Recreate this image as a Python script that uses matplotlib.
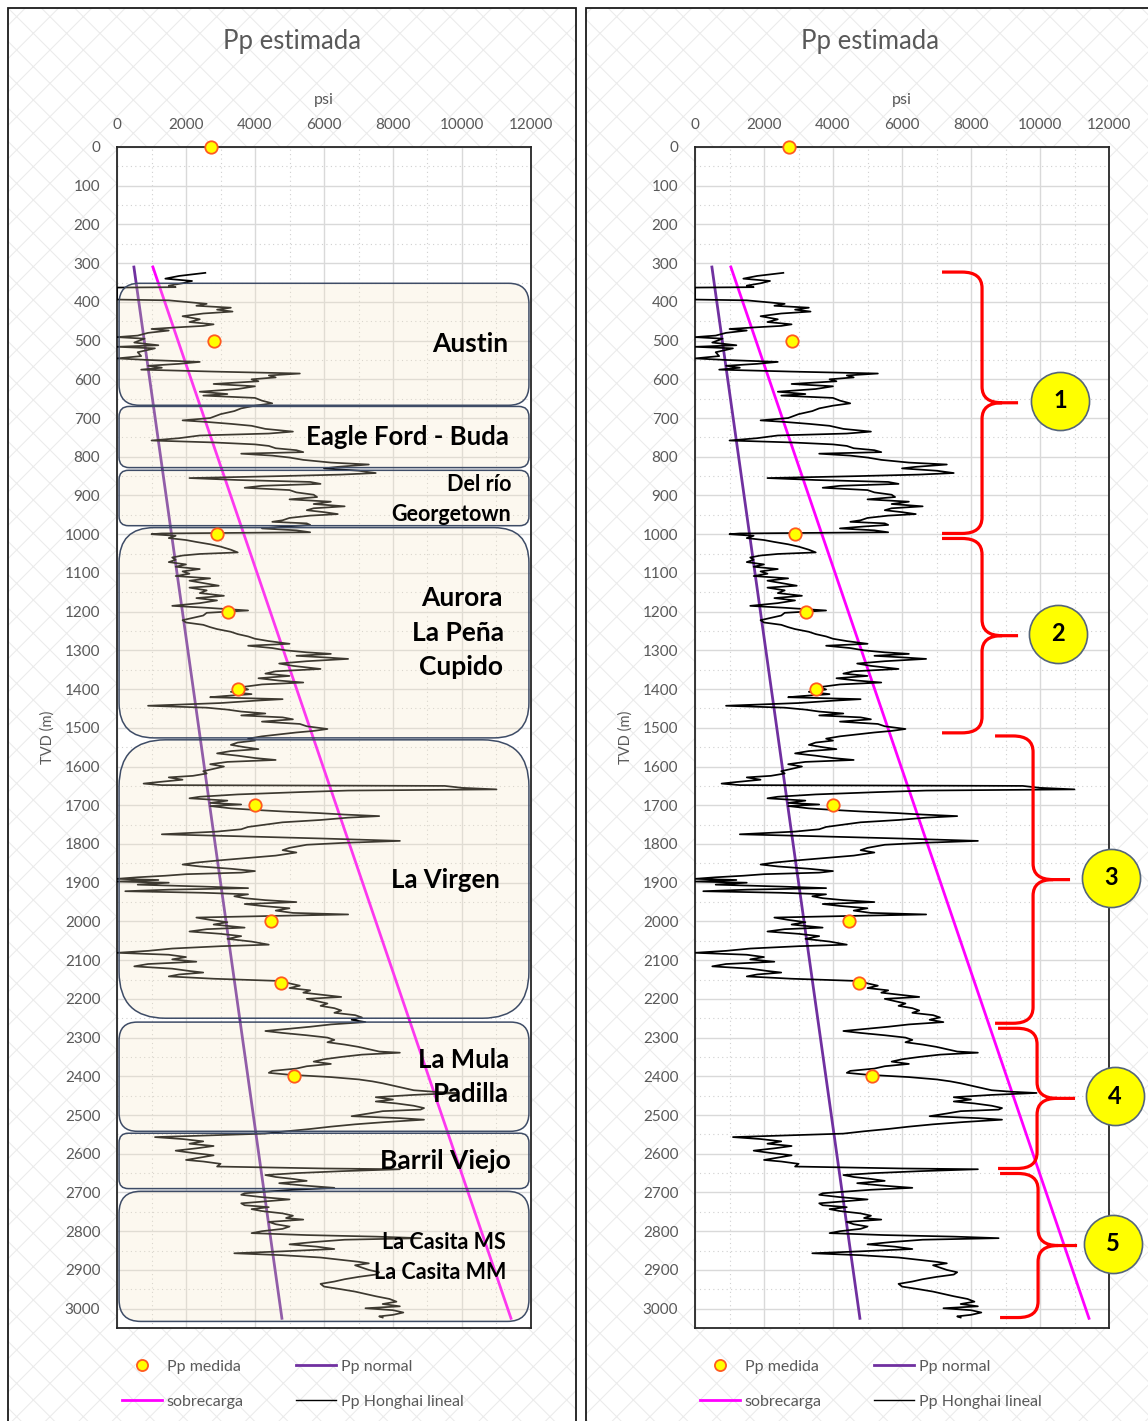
import matplotlib
matplotlib.use("Agg")
import matplotlib.pyplot as plt
from matplotlib.patches import FancyBboxPatch, Rectangle, PathPatch
from matplotlib.path import Path
from matplotlib.lines import Line2D

plt.rcParams['font.family'] = ['Lato', 'DejaVu Sans']
plt.rcParams['hatch.linewidth'] = 0.8

# ---------------- data ----------------
medida_depth = [0, 500, 1000, 1200, 1400, 1700, 2000, 2160, 2400]
medida_psi = [2725, 2810, 2900, 3220, 3510, 4000, 4460, 4750, 5130]

normal_depth = [310, 3025]
normal_psi = [490, 4780]

sobrecarga_depth = [310, 3025]
sobrecarga_psi = [1040, 11420]

honghai_depth = [
    325, 333, 340, 346, 352, 358, 362, 363, 394, 396,
    405, 410, 415, 420, 425, 430, 437, 445, 452, 458,
    462, 466, 470, 474, 480, 487, 491, 495, 505, 512,
    516, 520, 530, 540, 546, 550, 555, 560, 565, 570,
    575, 580, 585, 590, 595, 600, 605, 612, 618, 625,
    632, 638, 642, 648, 655, 662, 668, 675, 682, 690,
    700, 706, 710, 715, 720, 728, 735, 740, 745, 752,
    758, 763, 768, 772, 778, 783, 788, 792, 797, 802,
    808, 815, 820, 826, 830, 836, 842, 846, 850, 855,
    860, 865, 870, 875, 880, 886, 892, 898, 904, 910,
    916, 922, 928, 933, 938, 943, 948, 952, 958, 964,
    968, 972, 976, 980, 985, 990, 995, 998, 1000, 1004,
    1010, 1015, 1020, 1026, 1032, 1040, 1047, 1051, 1055, 1060,
    1066, 1072, 1078, 1084, 1090, 1096, 1102, 1108, 1114, 1120,
    1126, 1133, 1138, 1145, 1152, 1159, 1165, 1171, 1178, 1185,
    1190, 1197, 1203, 1210, 1216, 1222, 1228, 1234, 1240, 1245,
    1252, 1258, 1264, 1270, 1276, 1283, 1288, 1294, 1300, 1305,
    1309, 1314, 1318, 1322, 1328, 1334, 1340, 1348, 1354, 1360,
    1366, 1372, 1378, 1383, 1388, 1395, 1401, 1407, 1413, 1418,
    1421, 1426, 1430, 1436, 1443, 1448, 1453, 1458, 1463, 1468,
    1473, 1478, 1484, 1490, 1496, 1503, 1508, 1512, 1516, 1522,
    1528, 1533, 1538, 1544, 1550, 1555, 1560, 1566, 1572, 1578,
    1583, 1588, 1594, 1600, 1606, 1612, 1618, 1624, 1628, 1634,
    1640, 1644, 1648, 1650, 1655, 1659, 1662, 1666, 1672, 1678,
    1682, 1688, 1694, 1698, 1702, 1708, 1712, 1716, 1720, 1724,
    1728, 1732, 1738, 1744, 1750, 1756, 1762, 1768, 1775, 1780,
    1786, 1792, 1797, 1802, 1810, 1816, 1822, 1830, 1836, 1842,
    1848, 1853, 1858, 1864, 1870, 1874, 1878, 1882, 1886, 1890,
    1893, 1897, 1900, 1905, 1910, 1914, 1918, 1922, 1926, 1930,
    1935, 1940, 1945, 1950, 1955, 1960, 1966, 1972, 1978, 1982,
    1986, 1990, 1996, 2002, 2008, 2016, 2020, 2026, 2032, 2038,
    2045, 2052, 2060, 2064, 2070, 2076, 2081, 2086, 2092, 2098,
    2104, 2110, 2116, 2122, 2128, 2132, 2137, 2142, 2148, 2154,
    2160, 2166, 2172, 2178, 2184, 2190, 2195, 2200, 2206, 2212,
    2218, 2224, 2230, 2236, 2242, 2248, 2254, 2260, 2266, 2272,
    2278, 2283, 2288, 2294, 2300, 2306, 2312, 2318, 2324, 2330,
    2336, 2339, 2344, 2350, 2356, 2362, 2368, 2374, 2380, 2386,
    2391, 2396, 2402, 2408, 2413, 2418, 2424, 2430, 2436, 2440,
    2443, 2448, 2454, 2460, 2465, 2470, 2476, 2482, 2486, 2490,
    2496, 2503, 2508, 2512, 2518, 2524, 2530, 2536, 2542, 2548,
    2553, 2557, 2562, 2568, 2574, 2580, 2586, 2592, 2598, 2604,
    2610, 2616, 2620, 2626, 2633, 2638, 2640, 2645, 2650, 2655,
    2660, 2665, 2670, 2676, 2682, 2688, 2693, 2698, 2702, 2706,
    2712, 2718, 2723, 2728, 2733, 2738, 2743, 2748, 2754, 2760,
    2766, 2770, 2776, 2782, 2788, 2794, 2800, 2805, 2810, 2814,
    2818, 2822, 2828, 2834, 2840, 2846, 2852, 2857, 2862, 2868,
    2874, 2879, 2883, 2888, 2894, 2900, 2906, 2912, 2918, 2924,
    2930, 2936, 2943, 2950, 2956, 2962, 2968, 2975, 2982, 2988,
    2994, 2999, 3004, 3010, 3016, 3020, 3023,
]
honghai_psi = [
    2560, 1800, 1400, 2175, 1900, 1500, 1700, 0, 0, 1500,
    2600, 2300, 3300, 2900, 3350, 2500, 1900, 2400, 2100, 2800,
    2500, 1700, 1000, 1500, 900, 600, 0, 800, 500, 1200,
    0, 1100, 600, 700, 0, 900, 2400, 1800, 900, 1300,
    700, 2800, 5300, 4400, 4600, 3900, 4100, 2800, 4000, 3500,
    2400, 3200, 2500, 4000, 4200, 4500, 4000, 3600, 3400, 3000,
    2700, 1900, 2600, 3300, 3900, 4300, 5100, 4400, 2400, 1800,
    1000, 2800, 4000, 4400, 4600, 5200, 5400, 3600, 4500, 5000,
    5400, 6200, 7300, 6400, 6000, 7000, 7500, 6500, 4700, 2100,
    3500, 5600, 5900, 4200, 3700, 5000, 5200, 5700, 5800, 5000,
    6200, 5700, 6600, 5700, 5500, 6000, 6400, 5600, 5000, 4800,
    4500, 5500, 5600, 4900, 4200, 5200, 5600, 1300, 1000, 1700,
    1500, 2000, 2300, 2700, 3000, 3300, 3500, 2400, 1900, 1600,
    1700, 1500, 2000, 1700, 2400, 1900, 2100, 1700, 2700, 2100,
    2500, 2950, 2100, 2600, 2400, 3100, 2300, 2900, 2400, 1600,
    2600, 3800, 2600, 2500, 2200, 1900, 2000, 2500, 2700, 2900,
    3300, 3500, 3800, 4000, 4400, 5000, 3800, 4500, 4900, 5500,
    6200, 5200, 6000, 6700, 5500, 4700, 5100, 5900, 4600, 4300,
    5000, 4100, 4700, 5400, 4200, 3600, 3800, 3300, 3900, 3100,
    2700, 4800, 4000, 3000, 900, 2600, 3200, 3600, 4300, 3600,
    4800, 5100, 4200, 5300, 5500, 6100, 5700, 5200, 4800, 4200,
    3800, 4000, 3500, 3300, 3700, 4100, 3300, 2900, 3500, 4000,
    4600, 3200, 2700, 3100, 2800, 2500, 2600, 2200, 1500, 1900,
    1200, 770, 1300, 9500, 10000, 11000, 6700, 5300, 3500, 2400,
    2100, 3200, 2700, 3600, 2700, 3300, 4000, 4800, 5800, 6600,
    7600, 6700, 5900, 4800, 4300, 3800, 3600, 2900, 1300, 3500,
    6000, 8200, 6600, 5500, 5000, 4800, 5200, 4600, 3800, 3000,
    2300, 1900, 2400, 3300, 4000, 3600, 2000, 1400, 600, 0,
    1200, 0, 1500, 600, 2500, 3800, 1500, 240, 2500, 3800,
    3400, 3700, 4300, 5200, 3700, 4200, 5000, 4600, 5100, 6700,
    4400, 2300, 2700, 3200, 2800, 3700, 2600, 2100, 3000, 3600,
    3200, 3900, 4400, 3000, 1600, 900, 0, 1500, 2000, 1600,
    2300, 900, 500, 1600, 2100, 2500, 1800, 1500, 2800, 4800,
    5000, 5300, 5000, 5600, 5400, 6000, 6500, 5500, 5800, 6100,
    5900, 6300, 6500, 6300, 6900, 7100, 6800, 7200, 6200, 5600,
    4900, 4300, 4800, 5500, 6100, 6300, 6100, 6600, 7000, 7300,
    7600, 8200, 7100, 6500, 6000, 5700, 6200, 5500, 5200, 4500,
    4400, 5000, 6200, 7000, 7400, 7700, 8000, 8300, 8600, 9200,
    9900, 8600, 7500, 8000, 7500, 8100, 8600, 8900, 8800, 7700,
    7300, 6800, 8200, 8900, 7800, 6900, 6200, 5600, 4900, 4300,
    2500, 1100, 1900, 2500, 2100, 2800, 2300, 1700, 2200, 2800,
    2400, 2000, 2500, 3000, 2900, 6000, 8200, 6500, 5200, 4300,
    4600, 5100, 5500, 4700, 5400, 6300, 5100, 4300, 3700, 3600,
    4200, 5000, 4300, 3600, 3700, 4400, 3900, 4200, 4800, 5100,
    4900, 5400, 4400, 4600, 5000, 4800, 4200, 3900, 5500, 7500,
    8800, 6600, 5700, 5000, 5800, 6300, 4800, 3400, 4800, 5900,
    6500, 7000, 7300, 6900, 7100, 7300, 7600, 7500, 7000, 6600,
    6300, 5900, 6000, 6500, 6900, 7200, 7500, 7900, 8100, 7700,
    8200, 7200, 8000, 8300, 8000, 7600, 7700,
]

# formations (left panel)
form_top = [352, 670, 835, 983, 1531, 2260, 2547, 2697]
form_base = [667, 828, 978, 1526, 2250, 2542, 2690, 3033]
form_labels = ["Austin", "Eagle Ford - Buda", "Del río", "Georgetown",
               "Aurora", "La Peña", "Cupido", "La Virgen", "La Mula",
               "Padilla", "Barril Viejo", "La Casita MS", "La Casita MM"]
form_label_depth = [509, 750, 871, 949, 1166, 1254, 1342, 1893, 2359,
                    2446, 2620, 2829, 2907]
form_label_right = [11335, 11364, 11422, 11422, 11190, 11219, 11190, 11103,
                    11364, 11364, 11422, 11277, 11277]
form_label_size = [19, 18.5, 15.5, 15.5, 19, 19, 19, 18.5, 18.5, 18.5, 19,
                   15.5, 15.5]

# zones (right panel)
zone_top = [323, 1011, 1521, 2276, 2651]
zone_base = [998, 1513, 2263, 2638, 3023]
zone_labels = ["1", "2", "3", "4", "5"]

# ---------------- layout ----------------
W, H = 1148, 1421
fig = plt.figure(figsize=(W / 100, H / 100), dpi=100)


def fx(px):
    return px / W


def fy(py):
    return 1 - py / H


GRAY = '#595959'
C_NORMAL = '#7030A0'
C_SOBRE = '#FF00FF'

# panel backgrounds with light lattice pattern and black frame
for x0, x1 in [(8, 576), (586, 1160)]:
    bg = Rectangle((fx(x0), fy(1440)), fx(x1) - fx(x0), fy(8) - fy(1440),
                   transform=fig.transFigure, facecolor='white',
                   edgecolor='#ececec', hatch='x', lw=0, zorder=-3)
    fig.patches.append(bg)
    fr = Rectangle((fx(x0), fy(1440)), fx(x1) - fx(x0), fy(8) - fy(1440),
                   transform=fig.transFigure, facecolor='none',
                   edgecolor='#1a1a1a', lw=1.3, zorder=-2)
    fig.patches.append(fr)

axes = []
for left_px in [117, 695]:
    ax = fig.add_axes([fx(left_px), fy(1328), 414 / W, 1181 / H])
    axes.append(ax)
    ax.set_facecolor('white')
    ax.set_xlim(0, 12000)
    ax.set_ylim(3050, 0)
    ax.set_xticks(range(0, 12001, 2000))
    ax.set_yticks(range(0, 3001, 100))
    ax.set_xticks(range(1000, 12000, 2000), minor=True)
    ax.set_yticks(range(50, 3050, 100), minor=True)
    ax.xaxis.tick_top()
    ax.xaxis.set_label_position('top')
    ax.tick_params(axis='both', which='both', length=0, colors=GRAY,
                   labelsize=11)
    ax.tick_params(axis='x', pad=11)
    ax.tick_params(axis='y', pad=12)
    ax.set_xlabel('psi', color=GRAY, fontsize=11.5, labelpad=10)
    ax.set_ylabel('TVD (m)', color=GRAY, fontsize=10.5, labelpad=7)
    ax.grid(True, which='major', color='#d9d9d9', lw=1.0, zorder=0)
    ax.grid(True, which='minor', color='#d0d0d0', lw=0.8,
            linestyle=(0, (1, 3)), zorder=0)
    ax.set_axisbelow(True)
    for s in ax.spines.values():
        s.set_color('#262626')
        s.set_linewidth(1.3)
    ax.plot(normal_psi, normal_depth, color=C_NORMAL, lw=2.0, zorder=3)
    ax.plot(sobrecarga_psi, sobrecarga_depth, color=C_SOBRE, lw=2.0, zorder=3)
    ax.plot(honghai_psi, honghai_depth, color='black', lw=1.25, zorder=4)
    ax.scatter(medida_psi, medida_depth, s=80, facecolor='#FFFF00',
               edgecolor='#FF5A1F', linewidth=1.3, zorder=7, clip_on=False)
    fig.text(fx(left_px + 175), fy(42), 'Pp estimada', ha='center',
             va='center', fontsize=18.5, color=GRAY)

    handles = [
        Line2D([], [], marker='o', ls='none', markersize=8,
               markerfacecolor='#FFFF00', markeredgecolor='#FF5A1F',
               markeredgewidth=1.3),
        Line2D([], [], color=C_SOBRE, lw=2.0),
        Line2D([], [], color=C_NORMAL, lw=2.0),
        Line2D([], [], color='black', lw=1.0),
    ]
    labels = ['Pp medida', 'sobrecarga', 'Pp normal', 'Pp Honghai lineal']
    ax.legend(handles, labels, ncol=2, loc='upper left',
              bbox_to_anchor=(0.012, -0.027), frameon=False, fontsize=11.5,
              labelcolor=GRAY, handlelength=2.5, handletextpad=0.3,
              columnspacing=3.3, labelspacing=1.3, borderpad=0,
              borderaxespad=0)

# ---------------- formation boxes (left) ----------------
axL = axes[0]
psi_per_px = 12000 / 414
m_per_px = 3000 / 1160
aspect = m_per_px / psi_per_px
for top, base in zip(form_top, form_base):
    h_px = (base - top) / m_per_px
    r = h_px / 6 * psi_per_px
    box = FancyBboxPatch((60, top), 11880, base - top,
                         boxstyle=f"round,pad=0,rounding_size={r}",
                         mutation_aspect=aspect, facecolor='#F7E7C3',
                         alpha=0.25, edgecolor='none', zorder=5)
    axL.add_patch(box)
    edge = FancyBboxPatch((60, top), 11880, base - top,
                          boxstyle=f"round,pad=0,rounding_size={r}",
                          mutation_aspect=aspect, facecolor='none',
                          edgecolor='#3E4C66', lw=1.1, zorder=6)
    axL.add_patch(edge)

for lab, d, xr, fs in zip(form_labels, form_label_depth, form_label_right,
                          form_label_size):
    axL.text(xr, d, lab, ha='right', va='center', fontsize=fs,
             fontweight='bold', color='black', zorder=8)

# ---------------- braces (right) ----------------
axR = axes[1]
brace_x = [(7160, 8320, 9364), (7160, 8320, 9364), (8697, 9799, 10871),
           (8784, 9915, 11016), (8842, 9944, 11074)]
circle_x = [10581, 10523, 12060, 12176, 12118]
rx = 20 * psi_per_px
ry = 16 * m_per_px
for (xl, xm, xt), y0, y1, cx, lab in zip(brace_x, zone_top, zone_base,
                                         circle_x, zone_labels):
    ym = (y0 + y1) / 2
    verts = [(xl, y0), (xm - rx, y0), (xm, y0), (xm, y0 + ry),
             (xm, ym - ry), (xm, ym), (xm + rx, ym), (xt, ym),
             (xm + rx, ym), (xm, ym), (xm, ym + ry),
             (xm, y1 - ry), (xm, y1), (xm - rx, y1), (xl, y1)]
    codes = [Path.MOVETO, Path.LINETO, Path.CURVE3, Path.CURVE3,
             Path.LINETO, Path.CURVE3, Path.CURVE3, Path.LINETO,
             Path.MOVETO, Path.CURVE3, Path.CURVE3,
             Path.LINETO, Path.CURVE3, Path.CURVE3, Path.LINETO]
    axR.add_patch(PathPatch(Path(verts, codes), facecolor='none',
                            edgecolor='#FF0000', lw=2.3, zorder=8,
                            clip_on=False, capstyle='butt'))
    axR.scatter([cx], [ym - 5], s=1750, facecolor='#FFFF00',
                edgecolor='#55657A', linewidth=1.2, zorder=9, clip_on=False)
    axR.text(cx, ym - 5, lab, ha='center', va='center', fontsize=17,
             fontweight='bold', color='black', zorder=10, clip_on=False)

fig.savefig('out.png', dpi=100)
